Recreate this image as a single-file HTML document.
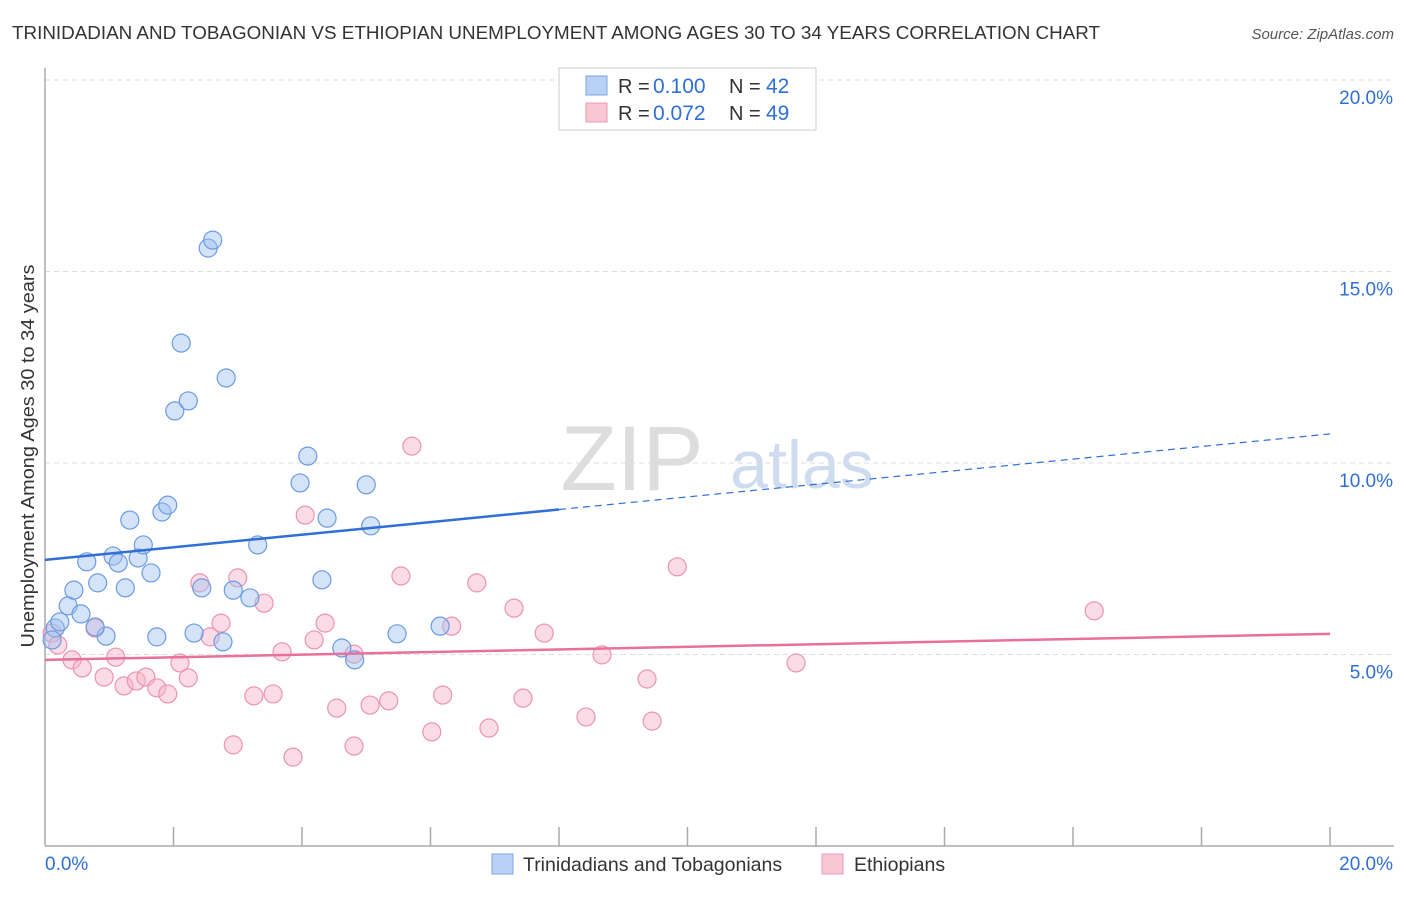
<!DOCTYPE html>
<html><head><meta charset="utf-8"><style>
body{margin:0;background:#fff;font-family:"Liberation Sans",sans-serif;}
svg text{font-family:"Liberation Sans",sans-serif;}
</style></head><body>
<svg id="chart" width="1406" height="892" viewBox="0 0 1406 892" xmlns="http://www.w3.org/2000/svg">
<text x="12" y="39" font-size="18.6" fill="#333" textLength="1088" lengthAdjust="spacingAndGlyphs">TRINIDADIAN AND TOBAGONIAN VS ETHIOPIAN UNEMPLOYMENT AMONG AGES 30 TO 34 YEARS CORRELATION CHART</text>
<text x="1394" y="39" font-size="15" fill="#555" text-anchor="end" font-style="italic">Source: ZipAtlas.com</text>
<g>
<text x="632" y="490" font-size="92" fill="#ddd" text-anchor="middle" font-family="Liberation Serif,serif">ZIP</text>
<text x="802" y="488" font-size="68" fill="#cfdcef" text-anchor="middle">atlas</text>
</g>
<g id="grid"></g>
<g id="axes"></g>
<g id="marks"></g>
<text transform="translate(34,456) rotate(-90)" font-size="18.5" fill="#333" text-anchor="middle" textLength="383" lengthAdjust="spacingAndGlyphs">Unemployment Among Ages 30 to 34 years</text>
<g>
<rect x="559" y="68" width="257" height="62" fill="#fff" stroke="#ccc"/>
<rect x="586" y="76" width="21" height="19" fill="#b9d1f5" stroke="#7aa5e6"/>
<rect x="586" y="103" width="21" height="19" fill="#f9c6d5" stroke="#ec9bb3"/>
<text x="618" y="93" font-size="20" fill="#333">R =</text>
<text x="653" y="93" font-size="21" fill="#2f6fd6">0.100</text>
<text x="729" y="93" font-size="20" fill="#333">N =</text>
<text x="766" y="93" font-size="21" fill="#2f6fd6">42</text>
<text x="618" y="120" font-size="20" fill="#333">R =</text>
<text x="653" y="120" font-size="21" fill="#2f6fd6">0.072</text>
<text x="729" y="120" font-size="20" fill="#333">N =</text>
<text x="766" y="120" font-size="21" fill="#2f6fd6">49</text>
</g>
<g>
<rect x="492" y="854" width="21" height="20" fill="#b9d1f5" stroke="#7aa5e6"/>
<text x="523" y="871" font-size="19.5" fill="#333">Trinidadians and Tobagonians</text>
<rect x="822" y="854" width="21" height="20" fill="#f9c6d5" stroke="#ec9bb3"/>
<text x="854" y="871" font-size="19.5" fill="#333">Ethiopians</text>
</g>
</svg>
<script>
const yTicks=[5,10,15,20];
const yTickLabels=["5.0%","10.0%","15.0%","20.0%"];
const xTickLabels=["0.0%","20.0%"];
const blueX=[0.16,0.23,0.11,0.36,0.45,0.56,0.65,0.82,0.95,1.06,1.14,1.25,1.32,1.45,1.53,1.65,1.74,1.82,1.91,2.02,2.12,2.23,2.32,2.44,2.54,2.61,2.77,2.82,2.93,3.19,3.31,3.97,4.09,4.31,4.39,4.62,4.82,5.00,5.07,5.48,6.15,0.78];
const blueY=[5.69,5.85,5.38,6.27,6.68,6.06,7.42,6.87,5.48,7.57,7.39,6.74,8.51,7.52,7.86,7.13,5.46,8.72,8.90,11.36,13.13,11.62,5.56,6.74,15.61,15.82,5.33,12.22,6.68,6.48,7.86,9.48,10.18,6.95,8.56,5.17,4.86,9.43,8.36,5.54,5.74,5.72];
const pinkX=[0.11,0.20,0.42,0.58,0.78,0.92,1.10,1.23,1.42,1.57,1.74,1.91,2.10,2.23,2.41,2.57,2.74,2.93,3.00,3.25,3.41,3.55,3.69,3.86,4.05,4.19,4.36,4.54,4.81,4.81,5.06,5.35,5.54,5.71,6.02,6.19,6.33,6.72,6.91,7.30,7.44,7.77,8.42,8.67,9.37,9.45,9.84,11.69,16.33];
const pinkY=[5.56,5.25,4.86,4.65,5.69,4.41,4.93,4.18,4.31,4.41,4.13,3.97,4.78,4.39,6.87,5.46,5.82,2.64,7.00,3.92,6.34,3.97,5.07,2.32,8.64,5.38,5.82,3.60,2.61,5.01,3.68,3.79,7.05,10.44,2.98,3.94,5.74,6.87,3.08,6.21,3.86,5.56,3.37,4.99,4.36,3.26,7.29,4.78,6.14];
const blueTrend=[7.47,10.76];
const pinkTrend=[4.86,5.54];
const NS="http://www.w3.org/2000/svg";
const X0=45,X1=1330,Y0=846,YPX=191.5/5;
function sx(v){return X0+(v/20)*(X1-X0);}
function sy(v){return Y0-v*YPX;}
function mk(tag,attrs,parent){const e=document.createElementNS(NS,tag);for(const k in attrs)e.setAttribute(k,attrs[k]);parent.appendChild(e);return e;}
const grid=document.getElementById('grid'),axes=document.getElementById('axes'),marks=document.getElementById('marks');
yTicks.forEach((t,i)=>{
 const l=mk('line',{x1:X0,x2:1394,y1:sy(t),y2:sy(t),stroke:'#ddd','stroke-dasharray':'5,4'},grid);
 
 
 const tx=mk('text',{x:1393,y:sy(t)+24,'font-size':19,fill:'#2f6fd6','text-anchor':'end'},axes);
 tx.textContent=yTickLabels[i];
 
 
});
const la=mk('line',{x1:X0,x2:X0,y1:68,y2:Y0,stroke:'#aaa','stroke-width':1.5},axes);


const ba=mk('line',{x1:X0,x2:1394,y1:Y0,y2:Y0,stroke:'#aaa','stroke-width':1.5},axes);


for(let i=1;i<=10;i++){
 const t=mk('line',{x1:sx(i*2),x2:sx(i*2),y1:827,y2:Y0,stroke:'#aaa','stroke-width':1.5},axes);
 
 
}
[[0,'start',X0],[20,'end',1393]].forEach((d,i)=>{
 const tx=mk('text',{x:d[2],y:870,'font-size':19,fill:'#2f6fd6','text-anchor':d[1]},axes);
 tx.textContent=xTickLabels[i];
 
 
});
function pts(xs,ys,fill,stroke,name){xs.forEach((x,i)=>{
 const c=mk('circle',{cx:sx(x),cy:sy(ys[i]),r:9,fill:fill,stroke:stroke,'stroke-width':1.2},marks);
 
 
});}
pts(pinkX,pinkY,'rgba(246,178,199,0.45)','#eb94ae','point-ethiopian');
pts(blueX,blueY,'rgba(160,193,240,0.45)','#6b9be2','point-trinidadian');
const bt1=mk('line',{x1:sx(0),y1:sy(blueTrend[0]),x2:sx(8),y2:sy(blueTrend[0]+(blueTrend[1]-blueTrend[0])*0.4),stroke:'#2f6fd6','stroke-width':2.5},marks);


const bt2=mk('line',{x1:sx(8),y1:sy(blueTrend[0]+(blueTrend[1]-blueTrend[0])*0.4),x2:sx(20),y2:sy(blueTrend[1]),stroke:'#2f6fd6','stroke-width':1.2,'stroke-dasharray':'7,5'},marks);


const pt=mk('line',{x1:sx(0),y1:sy(pinkTrend[0]),x2:sx(20),y2:sy(pinkTrend[1]),stroke:'#e8709a','stroke-width':2.5},marks);


</script>
</body></html>
